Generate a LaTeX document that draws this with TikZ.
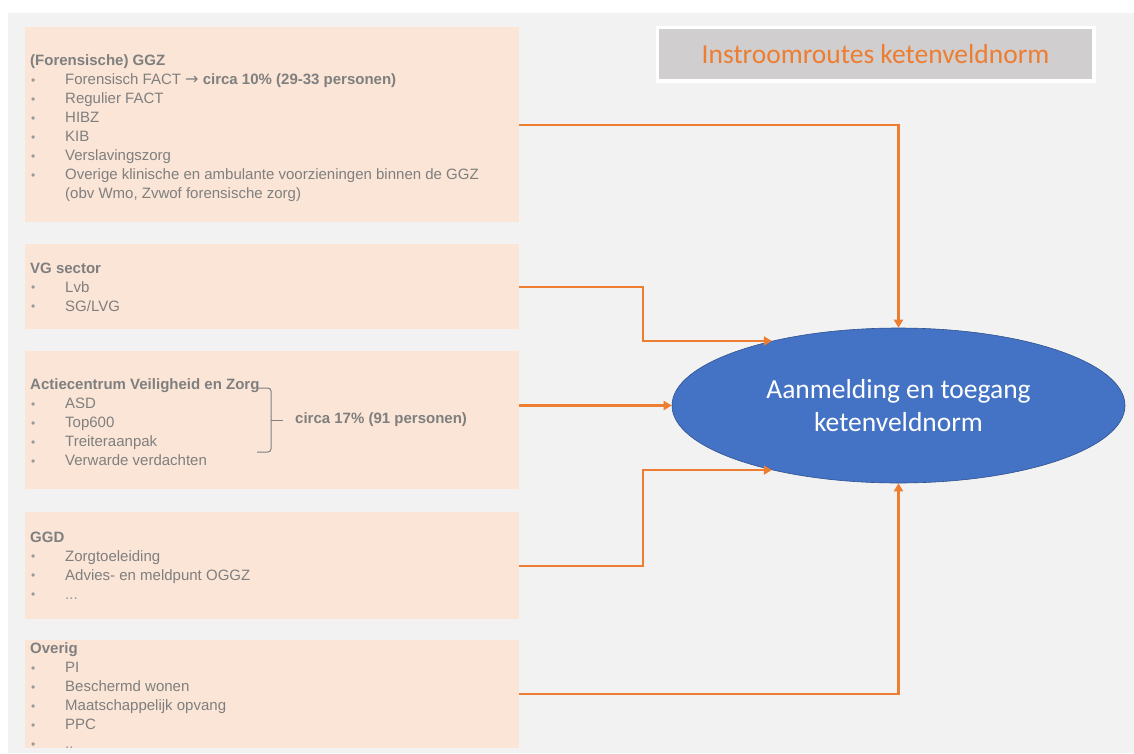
\documentclass[tikz,border=0pt]{standalone}
\usepackage{fontspec}
\setmainfont{Liberation Sans}
\newfontfamily\calibri{Carlito}
\newfontfamily\pijlfont{DejaVu Sans}
\usetikzlibrary{shapes.geometric,arrows.meta}
\definecolor{perzik}{HTML}{FBE5D6}
\definecolor{achtergrond}{HTML}{F2F2F2}
\definecolor{tekstgrijs}{HTML}{7F7F7F}
\definecolor{puntgrijs}{HTML}{9A9A9A}
\definecolor{oranje}{HTML}{ED7D31}
\definecolor{titelgrijs}{HTML}{D0CECE}
\definecolor{blauw}{HTML}{4472C4}
\definecolor{donkerblauw}{HTML}{2F528F}
\newcommand{\opsom}[1]{\makebox[35pt][l]{\hspace*{1pt}\textcolor{puntgrijs}{\fontsize{12}{12}\selectfont\raisebox{0.5pt}{\textbullet}}}#1}
\newcommand{\vervolg}[1]{\hspace*{35pt}#1}
\begin{document}
\begin{tikzpicture}[x=1pt,y=-1pt,
    bron/.style={fill=perzik, anchor=north west, inner sep=0pt, minimum width=494pt},
    brontekst/.style={anchor=north west, inner sep=0pt, align=left, text=tekstgrijs,
        font=\fontsize{15}{19}\selectfont},
    route/.style={draw=oranje, line width=2.2pt, -{Triangle[length=8pt,width=9pt]}}]

    % Achtergrond
    \fill[white] (0,0) rectangle (1134,753);
    \fill[achtergrond] (8,13) rectangle (1134,753);
    \useasboundingbox (0,0) rectangle (1134,753);

    % Titel
    \node[draw=white, line width=3.5pt, fill=titelgrijs, minimum width=436.5pt,
        minimum height=53.5pt, text=oranje, font=\calibri\fontsize{27.5}{33}\selectfont]
        (titel) at (875.5,54) {Instroomroutes ketenveldnorm};

    % Bronnen
    \node[bron, minimum height=195pt] (ggz) at (25,27) {};
    \node[bron, minimum height=85pt] (vg) at (25,244) {};
    \node[bron, minimum height=138pt] (avz) at (25,351) {};
    \node[bron, minimum height=107pt] (ggd) at (25,512) {};
    \node[bron, minimum height=108pt] (overig) at (25,640) {};

    \node[brontekst] (ggztekst) at (30,54.5) {\textbf{(Forensische) GGZ}\\
        \opsom{Forensisch FACT {\pijlfont\fontsize{16}{16}\selectfont →} \textbf{circa 10\% (29-33 personen)}}\\
        \opsom{Regulier FACT}\\
        \opsom{HIBZ}\\
        \opsom{KIB}\\
        \opsom{Verslavingszorg}\\
        \opsom{Overige klinische en ambulante voorzieningen binnen de GGZ}\\
        \vervolg{(obv Wmo, Zvwof forensische zorg)}};
    \node[brontekst] (vgtekst) at (30,262.5) {\textbf{VG sector}\\
        \opsom{Lvb}\\
        \opsom{SG/LVG}};
    \node[brontekst] (avztekst) at (30,378.5) {\textbf{Actiecentrum Veiligheid en Zorg}\\
        \opsom{ASD}\\
        \opsom{Top600}\\
        \opsom{Treiteraanpak}\\
        \opsom{Verwarde verdachten}};
    \node[brontekst] (ggdtekst) at (30,531.5) {\textbf{GGD}\\
        \opsom{Zorgtoeleiding}\\
        \opsom{Advies- en meldpunt OGGZ}\\
        \opsom{\textcolor{puntgrijs}{...}}};
    \node[brontekst] (overigtekst) at (30,642.5) {\textbf{Overig}\\
        \opsom{PI}\\
        \opsom{Beschermd wonen}\\
        \opsom{Maatschappelijk opvang}\\
        \opsom{PPC}\\
        \opsom{\textcolor{puntgrijs}{..}}};

    % Accolade
    \draw[tekstgrijs, line width=1pt, rounded corners=3pt]
        (257,388) -- (271,388) -- (271,452) -- (257,452);
    \draw[tekstgrijs, line width=1pt] (271,420) -- (283,420);
    \node[anchor=west, inner sep=0pt, text=tekstgrijs, font=\fontsize{15}{19}\selectfont\bfseries]
        (avzaandeel) at (295,420) {circa 17\% (91 personen)};

    % Aanmelding
    \node[ellipse, fill=blauw, draw=donkerblauw, line width=0.6pt, minimum width=453pt,
        minimum height=155pt, inner sep=0pt, align=center, text=white,
        font=\calibri\fontsize{27.5}{33}\selectfont]
        (toegang) at (898.5,405.5) {Aanmelding en toegang\\ketenveldnorm};

    % Pijlen
    \coordinate (knik) at (643,405);
    \draw[route] (ggz.east) -| (toegang.north);
    \draw[route] (vg.east) -| (knik |- toegang.153) -- (toegang.153);
    \draw[route] (avz.east |- toegang.west) -- (toegang.west);
    \draw[route] (ggd.east) -| (knik |- toegang.207) -- (toegang.207);
    \draw[route] (overig.east) -| (toegang.south);

\end{tikzpicture}
\end{document}
